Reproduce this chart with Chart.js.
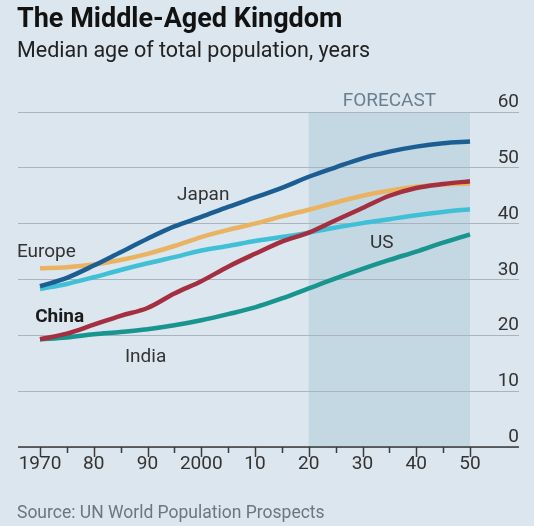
<!DOCTYPE html>
<html>
<head>
<meta charset="utf-8">
<script src="https://cdn.jsdelivr.net/npm/chart.js@4"></script>
<style>
  body { margin: 0; background: #dbe6ee; }
  #wrap { position: relative; width: 534px; height: 526px; overflow: hidden; }
  canvas { position: absolute; left: 0; top: 0; }
  .txt { position: absolute; left: 17px; white-space: nowrap; line-height: 1; font-family: Roboto, sans-serif; }
  #title { top: 4.6px; font-size: 27px; font-weight: bold; color: #121212; }
  #subtitle { top: 39.2px; font-size: 21.5px; color: #222; }
  #source { top: 503.6px; font-size: 17.5px; color: #6b767e; }
</style>
</head>
<body>
<div id="wrap">
  <canvas id="chart" width="534" height="526"></canvas>
  <div class="txt" id="title">The Middle-Aged Kingdom</div>
  <div class="txt" id="subtitle">Median age of total population, years</div>
  <div class="txt" id="source">Source: UN World Population Prospects</div>
</div>
<script>
// median age, five-year steps
const years = [1970, 1975, 1980, 1985, 1990, 1995, 2000, 2005, 2010, 2015, 2020, 2025, 2030, 2035, 2040, 2045, 2050];
const japan  = [28.8, 30.3, 32.5, 34.9, 37.3, 39.5, 41.2, 43.0, 44.7, 46.4, 48.4, 50.1, 51.7, 52.9, 53.8, 54.4, 54.7];
const europe = [32.0, 32.2, 32.7, 33.5, 34.6, 36.0, 37.6, 38.9, 40.0, 41.3, 42.5, 43.8, 45.0, 45.9, 46.6, 47.0, 47.2];
const us     = [28.3, 29.2, 30.4, 31.7, 32.9, 34.0, 35.2, 36.0, 36.9, 37.6, 38.4, 39.3, 40.1, 40.8, 41.5, 42.1, 42.6];
const china  = [19.3, 20.3, 21.9, 23.5, 24.9, 27.5, 29.7, 32.3, 34.6, 36.8, 38.4, 40.6, 42.8, 45.0, 46.4, 47.1, 47.6];
const india  = [19.3, 19.6, 20.2, 20.6, 21.1, 21.8, 22.7, 23.8, 25.0, 26.6, 28.4, 30.2, 31.9, 33.5, 35.0, 36.6, 38.1];

const xTickYears = [1970, 1975, 1980, 1985, 1990, 1995, 2000, 2005, 2010, 2015, 2020, 2025, 2030, 2035, 2040, 2045, 2050];
const xTickLabels = {1970: '1970', 1980: '80', 1990: '90', 2000: '2000', 2010: '10', 2020: '20', 2030: '30', 2040: '40', 2050: '50'};
const forecastFrom = 2020, forecastTo = 2050;

const FONT = 'Roboto, sans-serif';

function pts(vals) {
  return years.map((y, i) => ({ x: y, y: vals[i] }));
}

// line names, placed in data units
const notes = [
  { text: 'Japan',  x: 1995.5, y: 44.2, bold: false },
  { text: 'Europe', x: 1965.7, y: 34.1, bold: false },
  { text: 'China',  x: 1969.1, y: 22.4, bold: true },
  { text: 'India',  x: 1985.8, y: 15.3, bold: false },
  { text: 'US',     x: 2031.4, y: 35.7, bold: false }
];

const decor = {
  id: 'decor',
  beforeDraw(chart) {
    const { ctx, scales: { x, y } } = chart;
    ctx.save();
    ctx.fillStyle = '#c4d8e3';
    const x0 = x.getPixelForValue(forecastFrom), x1 = x.getPixelForValue(forecastTo);
    ctx.fillRect(x0, y.getPixelForValue(60), x1 - x0, y.getPixelForValue(0) - y.getPixelForValue(60));
    ctx.restore();
  },
  afterDraw(chart) {
    const { ctx, chartArea, scales: { x, y } } = chart;
    ctx.save();
    // bottom axis
    const base = y.getPixelForValue(0);
    ctx.strokeStyle = '#3a3a3a';
    ctx.lineWidth = 1.5;
    ctx.beginPath();
    ctx.moveTo(chartArea.left, base);
    ctx.lineTo(chartArea.right, base);
    ctx.stroke();
    xTickYears.forEach(yr => {
      const px = Math.round(x.getPixelForValue(yr)) + 0.5;
      const len = xTickLabels[yr] ? 10 : 6;
      ctx.beginPath();
      ctx.moveTo(px, base);
      ctx.lineTo(px, base + len);
      ctx.stroke();
    });
    ctx.fillStyle = '#333';
    ctx.font = '19px ' + FONT;
    ctx.textAlign = 'center';
    ctx.textBaseline = 'alphabetic';
    Object.keys(xTickLabels).forEach(yr => {
      ctx.fillText(xTickLabels[yr], x.getPixelForValue(+yr), base + 22);
    });
    // right-hand labels sit above their gridlines
    ctx.textAlign = 'right';
    y.ticks.forEach(t => {
      ctx.fillText(String(t.value), chartArea.right, y.getPixelForValue(t.value) - 5);
    });
    // forecast
    ctx.fillStyle = '#6a7f8f';
    ctx.font = '19px ' + FONT;
    ctx.textAlign = 'center';
    ctx.fillText('FORECAST', x.getPixelForValue((forecastFrom + forecastTo) / 2), y.getPixelForValue(61.1));
    // series names
    ctx.textAlign = 'left';
    notes.forEach(n => {
      ctx.fillStyle = n.bold ? '#1a1a1a' : '#333';
      ctx.font = (n.bold ? 'bold ' : '') + '19px ' + FONT;
      ctx.fillText(n.text, x.getPixelForValue(n.x), y.getPixelForValue(n.y));
    });
    ctx.restore();
  }
};

function series(label, vals, color) {
  return {
    label: label,
    data: pts(vals),
    borderColor: color,
    borderWidth: 4.5,
    pointRadius: 0,
    cubicInterpolationMode: 'monotone',
    borderCapStyle: 'butt',
    fill: false,
    clip: false
  };
}

new Chart(document.getElementById('chart'), {
  type: 'line',
  data: {
    datasets: [
      series('Japan', japan, '#1c5e93'),
      series('China', china, '#a32f40'),
      series('Europe', europe, '#e9b362'),
      series('US', us, '#3fc0d6'),
      series('India', india, '#18958f')
    ]
  },
  options: {
    responsive: false,
    animation: false,
    devicePixelRatio: 1,
    layout: { padding: { left: 18, right: 15, top: 112, bottom: 79 } },
    plugins: { legend: { display: false }, tooltip: { enabled: false } },
    scales: {
      x: { type: 'linear', min: 1965.907, max: 2059.116, display: false },
      y: {
        position: 'right',
        min: 0, max: 60,
        ticks: { stepSize: 10, display: false },
        grid: { color: '#a9b4bc', lineWidth: 1, drawTicks: false },
        border: { display: false }
      }
    }
  },
  plugins: [decor]
});
</script>
</body>
</html>
